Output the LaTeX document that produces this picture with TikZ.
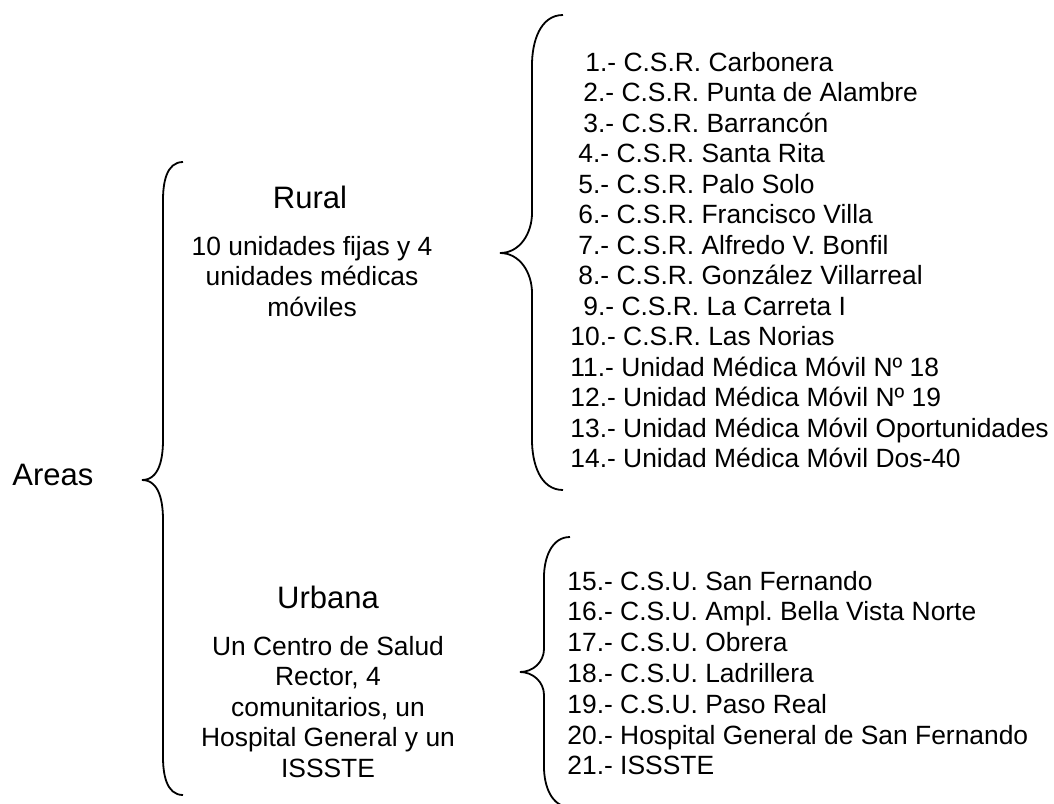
\documentclass[tikz,border=0pt]{standalone}
\usepackage{fontspec}
\setmainfont{Liberation Sans}
\frenchspacing

\begin{document}
\begin{tikzpicture}[x=0.5pt, y=-0.5pt,
    head/.style={font=\fontsize{15.5}{18}\selectfont, inner sep=0pt, anchor=base},
    desc/.style={font=\fontsize{13.2}{15.2}\selectfont, inner sep=0pt, align=center, anchor=north},
    item/.style={font=\fontsize{13.2}{15.2}\selectfont, inner sep=0pt, anchor=base west},
    llave/.style={line width=0.9pt}]
    \useasboundingbox (0,0) rectangle (1054,803);
    \node[head, anchor=base west] (areas) at (12,485) {Areas};
    \node[head] (rural) at (310,208) {Rural};
    \node[desc] (ruraltxt) at (312,236) {10 unidades fijas y 4\\unidades médicas\\móviles};
    \node[head] (urbana) at (328,608) {Urbana};
    \node[desc] (urbanatxt) at (328,636) {Un Centro de Salud\\Rector, 4\\comunitarios, un\\Hospital General y un\\ISSSTE};
    % braces: tip x / vertical x / end x / top / tip y / bottom / end radius / tip radius
    \foreach \xt/\xv/\xe/\ya/\yp/\yb/\re/\rt in {
      142/163/183/162/480/795/38/40,
      500/532/563/15/253/490/50/40,
      520/544/570/537/672/807/40/23}
      \draw[llave] (\xe,\ya) to[out=180,in=90] (\xv,\ya+\re) -- (\xv,\yp-\rt)
        to[out=-90,in=0] (\xt,\yp) to[out=0,in=90] (\xv,\yp+\rt) -- (\xv,\yb-\re)
        to[out=-90,in=180] (\xe,\yb);
    \foreach \i/\x/\t in {
      1/585/C.S.R. Carbonera, 2/583/C.S.R. Punta de Alambre, 3/583/C.S.R. Barrancón,
      4/578/C.S.R. Santa Rita, 5/578/C.S.R. Palo Solo, 6/578/C.S.R. Francisco Villa,
      7/578/C.S.R. Alfredo V. Bonfil, 8/578/C.S.R. González Villarreal,
      9/583/C.S.R. La Carreta I, 10/570/C.S.R. Las Norias,
      11/570/Unidad Médica Móvil Nº 18, 12/570/Unidad Médica Móvil Nº 19,
      13/570/Unidad Médica Móvil Oportunidades, 14/570/Unidad Médica Móvil Dos-40}
      \node[item] (r\i) at (\x,{71+(\i-1)*30.5}) {\i.- \t};
    \foreach \i/\t in {
      15/C.S.U. San Fernando, 16/C.S.U. Ampl. Bella Vista Norte, 17/C.S.U. Obrera,
      18/C.S.U. Ladrillera, 19/C.S.U. Paso Real, 20/Hospital General de San Fernando,
      21/ISSSTE}
      \node[item] (u\i) at (567,{590+(\i-15)*30.8}) {\i.- \t};
\end{tikzpicture}
\end{document}
